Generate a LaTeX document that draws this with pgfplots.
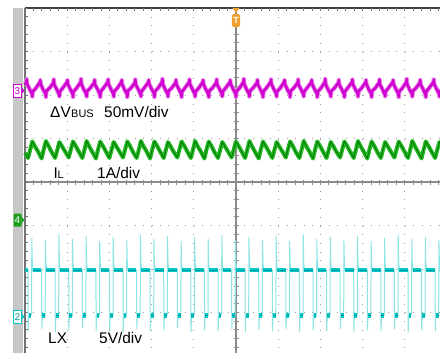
\documentclass[border=0pt]{standalone}
\usepackage{pgfplots}
\pgfplotsset{compat=1.18}
\usepackage{fontspec}
\setmainfont{Liberation Sans}
\definecolor{magc}{HTML}{D000D0}
\definecolor{magd}{HTML}{8A0090}
\definecolor{magl}{HTML}{E890E8}
\definecolor{grnc}{HTML}{22BB22}
\definecolor{grnd}{HTML}{087A08}
\definecolor{cyc}{HTML}{00C8C8}
\definecolor{cyd}{HTML}{009A9A}
\definecolor{cyl}{HTML}{8CE4E4}
\definecolor{gridc}{HTML}{9A9A9A}
\definecolor{crossc}{HTML}{8C8C8C}
\definecolor{trigc}{HTML}{F0A030}
\begin{document}
\begin{tikzpicture}
\begin{axis}[
  scale only axis, width=440bp, height=353bp,
  xmin=0, xmax=440, ymin=0, ymax=353, y dir=reverse,
  axis lines=none, unbounded coords=jump,
]
\fill[white] (axis cs:0,0) rectangle (axis cs:440,353);
% side strip
\fill[black!22] (axis cs:13,8) rectangle (axis cs:23,353);
% dotted grid
\pgfplotsinvokeforeach{67.2,109.4,151.6,193.8,278.2,320.4,362.6,404.8}{
  \draw[gridc, line width=1bp, dash pattern=on 1bp off 7.7bp] (axis cs:#1,8) -- (axis cs:#1,353);
}
\pgfplotsinvokeforeach{51.5,95,138.5,225.5,269,312.5}{
  \draw[gridc, line width=1bp, dash pattern=on 1bp off 7.44bp] (axis cs:25,#1) -- (axis cs:440,#1);
}
% center crosshair
\draw[crossc, line width=1.6bp] (axis cs:25,182) -- (axis cs:440,182);
\draw[crossc, line width=1.6bp] (axis cs:236,8) -- (axis cs:236,353);
\draw[crossc, line width=5bp, dash pattern=on 0.9bp off 7.54bp] (axis cs:24.55,182) -- (axis cs:440,182);
\draw[crossc, line width=5bp, dash pattern=on 0.9bp off 7.8bp] (axis cs:236,7.55) -- (axis cs:236,353);
% borders
\draw[black!75, line width=1.2bp] (axis cs:25,8) -- (axis cs:440,8);
\draw[black!55, line width=1.2bp] (axis cs:25,8) -- (axis cs:25,353);
\draw[black!55, line width=3bp, dash pattern=on 0.9bp off 7.54bp] (axis cs:24.55,9.5) -- (axis cs:440,9.5);
\draw[black!55, line width=3bp, dash pattern=on 0.9bp off 7.8bp] (axis cs:26.5,7.55) -- (axis cs:26.5,353);

% ---------------- channel 3 : Delta V_BUS ----------------
\addplot[magl, line width=4.5bp, line join=round] coordinates {
(25,84.5)
(26.4,82) (26.7,79.5) (27.1,84) (29.5,89) (32.0,94) (32.3,96.5) (32.8,91.5) (36.0,88)
(40.0,82) (40.3,80) (40.7,84) (43.1,89.5) (45.6,94) (45.9,97) (46.4,91) (49.6,88)
(53.5,82.5) (53.8,79.5) (54.2,84.5) (56.6,89) (59.1,94.5) (59.4,96.5) (59.9,91.5) (63.1,87.5)
(67.1,82) (67.4,80) (67.8,84) (70.2,89) (72.7,94) (73.0,97) (73.5,91.5) (76.7,88)
(80.7,82) (81.0,79) (81.4,84) (83.8,89.5) (86.3,94) (86.6,96.5) (87.1,91) (90.3,88)
(94.3,82.5) (94.6,80) (95.0,84.5) (97.4,89) (99.9,94.5) (100.2,97) (100.7,91.5) (103.9,87.5)
(107.8,82) (108.1,79.5) (108.5,84) (110.9,89) (113.4,94) (113.7,96.5) (114.2,91.5) (117.4,88)
(121.4,82) (121.7,80) (122.1,84) (124.5,89.5) (127.0,94) (127.3,97) (127.8,91) (131.0,88)
(135.0,82.5) (135.3,79.5) (135.7,84.5) (138.1,89) (140.6,94.5) (140.9,96.5) (141.4,91.5) (144.6,87.5)
(148.5,82) (148.8,80) (149.2,84) (151.6,89) (154.1,94) (154.4,97) (154.9,91.5) (158.1,88)
(162.1,82) (162.4,79) (162.8,84) (165.2,89.5) (167.7,94) (168.0,96.5) (168.5,91) (171.7,88)
(175.7,82.5) (176.0,80) (176.4,84.5) (178.8,89) (181.3,94.5) (181.6,97) (182.1,91.5) (185.3,87.5)
(189.2,82) (189.5,79.5) (189.9,84) (192.3,89) (194.8,94) (195.1,96.5) (195.6,91.5) (198.8,88)
(202.8,82) (203.1,80) (203.5,84) (205.9,89.5) (208.4,94) (208.7,97) (209.2,91) (212.4,88)
(216.4,82.5) (216.7,79.5) (217.1,84.5) (219.5,89) (222.0,94.5) (222.3,96.5) (222.8,91.5) (226.0,87.5)
(230.0,82) (230.3,80) (230.7,84) (233.1,89) (235.6,94) (235.9,97) (236.4,91.5) (239.6,88)
(243.5,82) (243.8,79) (244.2,84) (246.6,89.5) (249.1,94) (249.4,96.5) (249.9,91) (253.1,88)
(257.1,82.5) (257.4,80) (257.8,84.5) (260.2,89) (262.7,94.5) (263.0,97) (263.5,91.5) (266.7,87.5)
(270.7,82) (271.0,79.5) (271.4,84) (273.8,89) (276.3,94) (276.6,96.5) (277.1,91.5) (280.3,88)
(284.2,82) (284.5,80) (284.9,84) (287.3,89.5) (289.8,94) (290.1,97) (290.6,91) (293.8,88)
(297.8,82.5) (298.1,79.5) (298.5,84.5) (300.9,89) (303.4,94.5) (303.7,96.5) (304.2,91.5) (307.4,87.5)
(311.4,82) (311.7,80) (312.1,84) (314.5,89) (317.0,94) (317.3,97) (317.8,91.5) (321.0,88)
(324.9,82) (325.2,79) (325.6,84) (328.0,89.5) (330.5,94) (330.8,96.5) (331.3,91) (334.5,88)
(338.5,82.5) (338.8,80) (339.2,84.5) (341.6,89) (344.1,94.5) (344.4,97) (344.9,91.5) (348.1,87.5)
(352.1,82) (352.4,79.5) (352.8,84) (355.2,89) (357.7,94) (358.0,96.5) (358.5,91.5) (361.7,88)
(365.7,82) (366.0,80) (366.4,84) (368.8,89.5) (371.3,94) (371.6,97) (372.1,91) (375.3,88)
(379.2,82.5) (379.5,79.5) (379.9,84.5) (382.3,89) (384.8,94.5) (385.1,96.5) (385.6,91.5) (388.8,87.5)
(392.8,82) (393.1,80) (393.5,84) (395.9,89) (398.4,94) (398.7,97) (399.2,91.5) (402.4,88)
(406.4,82) (406.7,79) (407.1,84) (409.5,89.5) (412.0,94) (412.3,96.5) (412.8,91) (416.0,88)
(419.9,82.5) (420.2,80) (420.6,84.5) (423.0,89) (425.5,94.5) (425.8,97) (426.3,91.5) (429.5,87.5)
(433.5,82) (433.8,79.5) (434.2,84) (436.6,89) (439.1,94) (439.4,96.5) (439.9,91.5) (443,88)
};
\addplot[magc, line width=2.6bp, line join=round] coordinates {
(25,84.5)
(26.4,82) (26.7,79.5) (27.1,84) (29.5,89) (32.0,94) (32.3,96.5) (32.8,91.5) (36.0,88)
(40.0,82) (40.3,80) (40.7,84) (43.1,89.5) (45.6,94) (45.9,97) (46.4,91) (49.6,88)
(53.5,82.5) (53.8,79.5) (54.2,84.5) (56.6,89) (59.1,94.5) (59.4,96.5) (59.9,91.5) (63.1,87.5)
(67.1,82) (67.4,80) (67.8,84) (70.2,89) (72.7,94) (73.0,97) (73.5,91.5) (76.7,88)
(80.7,82) (81.0,79) (81.4,84) (83.8,89.5) (86.3,94) (86.6,96.5) (87.1,91) (90.3,88)
(94.3,82.5) (94.6,80) (95.0,84.5) (97.4,89) (99.9,94.5) (100.2,97) (100.7,91.5) (103.9,87.5)
(107.8,82) (108.1,79.5) (108.5,84) (110.9,89) (113.4,94) (113.7,96.5) (114.2,91.5) (117.4,88)
(121.4,82) (121.7,80) (122.1,84) (124.5,89.5) (127.0,94) (127.3,97) (127.8,91) (131.0,88)
(135.0,82.5) (135.3,79.5) (135.7,84.5) (138.1,89) (140.6,94.5) (140.9,96.5) (141.4,91.5) (144.6,87.5)
(148.5,82) (148.8,80) (149.2,84) (151.6,89) (154.1,94) (154.4,97) (154.9,91.5) (158.1,88)
(162.1,82) (162.4,79) (162.8,84) (165.2,89.5) (167.7,94) (168.0,96.5) (168.5,91) (171.7,88)
(175.7,82.5) (176.0,80) (176.4,84.5) (178.8,89) (181.3,94.5) (181.6,97) (182.1,91.5) (185.3,87.5)
(189.2,82) (189.5,79.5) (189.9,84) (192.3,89) (194.8,94) (195.1,96.5) (195.6,91.5) (198.8,88)
(202.8,82) (203.1,80) (203.5,84) (205.9,89.5) (208.4,94) (208.7,97) (209.2,91) (212.4,88)
(216.4,82.5) (216.7,79.5) (217.1,84.5) (219.5,89) (222.0,94.5) (222.3,96.5) (222.8,91.5) (226.0,87.5)
(230.0,82) (230.3,80) (230.7,84) (233.1,89) (235.6,94) (235.9,97) (236.4,91.5) (239.6,88)
(243.5,82) (243.8,79) (244.2,84) (246.6,89.5) (249.1,94) (249.4,96.5) (249.9,91) (253.1,88)
(257.1,82.5) (257.4,80) (257.8,84.5) (260.2,89) (262.7,94.5) (263.0,97) (263.5,91.5) (266.7,87.5)
(270.7,82) (271.0,79.5) (271.4,84) (273.8,89) (276.3,94) (276.6,96.5) (277.1,91.5) (280.3,88)
(284.2,82) (284.5,80) (284.9,84) (287.3,89.5) (289.8,94) (290.1,97) (290.6,91) (293.8,88)
(297.8,82.5) (298.1,79.5) (298.5,84.5) (300.9,89) (303.4,94.5) (303.7,96.5) (304.2,91.5) (307.4,87.5)
(311.4,82) (311.7,80) (312.1,84) (314.5,89) (317.0,94) (317.3,97) (317.8,91.5) (321.0,88)
(324.9,82) (325.2,79) (325.6,84) (328.0,89.5) (330.5,94) (330.8,96.5) (331.3,91) (334.5,88)
(338.5,82.5) (338.8,80) (339.2,84.5) (341.6,89) (344.1,94.5) (344.4,97) (344.9,91.5) (348.1,87.5)
(352.1,82) (352.4,79.5) (352.8,84) (355.2,89) (357.7,94) (358.0,96.5) (358.5,91.5) (361.7,88)
(365.7,82) (366.0,80) (366.4,84) (368.8,89.5) (371.3,94) (371.6,97) (372.1,91) (375.3,88)
(379.2,82.5) (379.5,79.5) (379.9,84.5) (382.3,89) (384.8,94.5) (385.1,96.5) (385.6,91.5) (388.8,87.5)
(392.8,82) (393.1,80) (393.5,84) (395.9,89) (398.4,94) (398.7,97) (399.2,91.5) (402.4,88)
(406.4,82) (406.7,79) (407.1,84) (409.5,89.5) (412.0,94) (412.3,96.5) (412.8,91) (416.0,88)
(419.9,82.5) (420.2,80) (420.6,84.5) (423.0,89) (425.5,94.5) (425.8,97) (426.3,91.5) (429.5,87.5)
(433.5,82) (433.8,79.5) (434.2,84) (436.6,89) (439.1,94) (439.4,96.5) (439.9,91.5) (443,88)
};

% ---------------- channel 4 : I_L ----------------
\addplot[grnc, line width=4bp, line join=round] coordinates {
(25,153)
(28.0,158) (30.0,150.5) (32.3,141.5) (35.0,146.5) (38.0,151.5)
(41.6,158.5) (43.6,150) (45.9,141) (48.6,146) (51.6,152)
(55.1,158) (57.1,150.5) (59.4,142) (62.1,146.5) (65.1,151.5)
(68.7,157.5) (70.7,150) (73.0,141.5) (75.7,146) (78.7,151.5)
(82.3,158) (84.3,150.5) (86.6,141) (89.3,146.5) (92.3,152)
(95.9,158.5) (97.9,150) (100.2,141.5) (102.9,146) (105.9,151.5)
(109.4,158) (111.4,150.5) (113.7,142) (116.4,146.5) (119.4,151.5)
(123.0,157.5) (125.0,150) (127.3,141.5) (130.0,146) (133.0,152)
(136.6,158) (138.6,150.5) (140.9,141) (143.6,146.5) (146.6,151.5)
(150.1,158.5) (152.1,150) (154.4,141.5) (157.1,146) (160.1,151.5)
(163.7,158) (165.7,150.5) (168.0,142) (170.7,146.5) (173.7,152)
(177.3,157.5) (179.3,150) (181.6,141.5) (184.3,146) (187.3,151.5)
(190.8,158) (192.8,150.5) (195.1,141) (197.8,146.5) (200.8,151.5)
(204.4,158.5) (206.4,150) (208.7,141.5) (211.4,146) (214.4,152)
(218.0,158) (220.0,150.5) (222.3,142) (225.0,146.5) (228.0,151.5)
(231.6,157.5) (233.6,150) (235.9,141.5) (238.6,146) (241.6,151.5)
(245.1,158) (247.1,150.5) (249.4,141) (252.1,146.5) (255.1,152)
(258.7,158.5) (260.7,150) (263.0,141.5) (265.7,146) (268.7,151.5)
(272.3,158) (274.3,150.5) (276.6,142) (279.3,146.5) (282.3,151.5)
(285.8,157.5) (287.8,150) (290.1,141.5) (292.8,146) (295.8,152)
(299.4,158) (301.4,150.5) (303.7,141) (306.4,146.5) (309.4,151.5)
(313.0,158.5) (315.0,150) (317.3,141.5) (320.0,146) (323.0,151.5)
(326.5,158) (328.5,150.5) (330.8,142) (333.5,146.5) (336.5,152)
(340.1,157.5) (342.1,150) (344.4,141.5) (347.1,146) (350.1,151.5)
(353.7,158) (355.7,150.5) (358.0,141) (360.7,146.5) (363.7,151.5)
(367.3,158.5) (369.3,150) (371.6,141.5) (374.3,146) (377.3,152)
(380.8,158) (382.8,150.5) (385.1,142) (387.8,146.5) (390.8,151.5)
(394.4,157.5) (396.4,150) (398.7,141.5) (401.4,146) (404.4,151.5)
(408.0,158) (410.0,150.5) (412.3,141) (415.0,146.5) (418.0,152)
(421.5,158.5) (423.5,150) (425.8,141.5) (428.5,146) (431.5,151.5)
(435.1,158) (437.1,150.5) (439.4,142) (442,146)
};
\addplot[grnd, line width=1bp, line join=round] coordinates {
(25,153)
(28.0,158) (30.0,150.5) (32.3,141.5) (35.0,146.5) (38.0,151.5)
(41.6,158.5) (43.6,150) (45.9,141) (48.6,146) (51.6,152)
(55.1,158) (57.1,150.5) (59.4,142) (62.1,146.5) (65.1,151.5)
(68.7,157.5) (70.7,150) (73.0,141.5) (75.7,146) (78.7,151.5)
(82.3,158) (84.3,150.5) (86.6,141) (89.3,146.5) (92.3,152)
(95.9,158.5) (97.9,150) (100.2,141.5) (102.9,146) (105.9,151.5)
(109.4,158) (111.4,150.5) (113.7,142) (116.4,146.5) (119.4,151.5)
(123.0,157.5) (125.0,150) (127.3,141.5) (130.0,146) (133.0,152)
(136.6,158) (138.6,150.5) (140.9,141) (143.6,146.5) (146.6,151.5)
(150.1,158.5) (152.1,150) (154.4,141.5) (157.1,146) (160.1,151.5)
(163.7,158) (165.7,150.5) (168.0,142) (170.7,146.5) (173.7,152)
(177.3,157.5) (179.3,150) (181.6,141.5) (184.3,146) (187.3,151.5)
(190.8,158) (192.8,150.5) (195.1,141) (197.8,146.5) (200.8,151.5)
(204.4,158.5) (206.4,150) (208.7,141.5) (211.4,146) (214.4,152)
(218.0,158) (220.0,150.5) (222.3,142) (225.0,146.5) (228.0,151.5)
(231.6,157.5) (233.6,150) (235.9,141.5) (238.6,146) (241.6,151.5)
(245.1,158) (247.1,150.5) (249.4,141) (252.1,146.5) (255.1,152)
(258.7,158.5) (260.7,150) (263.0,141.5) (265.7,146) (268.7,151.5)
(272.3,158) (274.3,150.5) (276.6,142) (279.3,146.5) (282.3,151.5)
(285.8,157.5) (287.8,150) (290.1,141.5) (292.8,146) (295.8,152)
(299.4,158) (301.4,150.5) (303.7,141) (306.4,146.5) (309.4,151.5)
(313.0,158.5) (315.0,150) (317.3,141.5) (320.0,146) (323.0,151.5)
(326.5,158) (328.5,150.5) (330.8,142) (333.5,146.5) (336.5,152)
(340.1,157.5) (342.1,150) (344.4,141.5) (347.1,146) (350.1,151.5)
(353.7,158) (355.7,150.5) (358.0,141) (360.7,146.5) (363.7,151.5)
(367.3,158.5) (369.3,150) (371.6,141.5) (374.3,146) (377.3,152)
(380.8,158) (382.8,150.5) (385.1,142) (387.8,146.5) (390.8,151.5)
(394.4,157.5) (396.4,150) (398.7,141.5) (401.4,146) (404.4,151.5)
(408.0,158) (410.0,150.5) (412.3,141) (415.0,146.5) (418.0,152)
(421.5,158.5) (423.5,150) (425.8,141.5) (428.5,146) (431.5,151.5)
(435.1,158) (437.1,150.5) (439.4,142) (442,146)
};

% ---------------- channel 2 : LX ----------------
\addplot[cyl, line width=1bp] coordinates {
(25,270)
(28.0,270) (28.2,331) (28.7,316) (31.6,315) (31.8,238) (32.3,262) (33.0,271) (37.0,269.5)
(41.6,270) (41.8,329) (42.3,315) (45.2,316) (45.4,240) (45.9,263) (46.6,270) (50.6,270.5)
(55.1,270) (55.3,332) (55.8,316) (58.7,315) (58.9,234) (59.4,261) (60.1,271) (64.1,269.5)
(68.7,270) (68.9,330) (69.4,315) (72.3,316) (72.5,239) (73.0,263) (73.7,270) (77.7,270.5)
(82.3,270) (82.5,328) (83.0,316) (85.9,315) (86.1,236) (86.6,262) (87.3,271) (91.3,269.5)
(95.9,270) (96.1,331) (96.6,315) (99.5,316) (99.7,241) (100.2,263) (100.9,270) (104.9,270.5)
(109.4,270) (109.6,330) (110.1,316) (113.0,315) (113.2,237) (113.7,262) (114.4,271) (118.4,269.5)
(123.0,270) (123.2,332) (123.7,315) (126.6,316) (126.8,240) (127.3,263) (128.0,270) (132.0,270.5)
(136.6,270) (136.8,329) (137.3,316) (140.2,315) (140.4,235) (140.9,262) (141.6,271) (145.6,269.5)
(150.1,270) (150.3,331) (150.8,315) (153.7,316) (153.9,239) (154.4,263) (155.1,270) (159.1,270.5)
(163.7,270) (163.9,330) (164.4,316) (167.3,315) (167.5,236) (168.0,262) (168.7,271) (172.7,269.5)
(177.3,270) (177.5,328) (178.0,315) (180.9,316) (181.1,241) (181.6,263) (182.3,270) (186.3,270.5)
(190.8,270) (191.0,332) (191.5,316) (194.4,315) (194.6,237) (195.1,262) (195.8,271) (199.8,269.5)
(204.4,270) (204.6,330) (205.1,315) (208.0,316) (208.2,239) (208.7,263) (209.4,270) (213.4,270.5)
(218.0,270) (218.2,331) (218.7,316) (221.6,315) (221.8,235) (222.3,262) (223.0,271) (227.0,269.5)
(231.6,270) (231.8,329) (232.3,315) (235.2,316) (235.4,240) (235.9,263) (236.6,270) (240.6,270.5)
(245.1,270) (245.3,332) (245.8,316) (248.7,315) (248.9,237) (249.4,262) (250.1,271) (254.1,269.5)
(258.7,270) (258.9,330) (259.4,315) (262.3,316) (262.5,240) (263.0,263) (263.7,270) (267.7,270.5)
(272.3,270) (272.5,331) (273.0,316) (275.9,315) (276.1,236) (276.6,262) (277.3,271) (281.3,269.5)
(285.8,270) (286.0,329) (286.5,315) (289.4,316) (289.6,241) (290.1,263) (290.8,270) (294.8,270.5)
(299.4,270) (299.6,332) (300.1,316) (303.0,315) (303.2,234) (303.7,262) (304.4,271) (308.4,269.5)
(313.0,270) (313.2,330) (313.7,315) (316.6,316) (316.8,239) (317.3,263) (318.0,270) (322.0,270.5)
(326.5,270) (326.7,331) (327.2,316) (330.1,315) (330.3,237) (330.8,262) (331.5,271) (335.5,269.5)
(340.1,270) (340.3,329) (340.8,315) (343.7,316) (343.9,240) (344.4,263) (345.1,270) (349.1,270.5)
(353.7,270) (353.9,332) (354.4,316) (357.3,315) (357.5,236) (358.0,262) (358.7,271) (362.7,269.5)
(367.3,270) (367.5,330) (368.0,315) (370.9,316) (371.1,241) (371.6,263) (372.3,270) (376.3,270.5)
(380.8,270) (381.0,331) (381.5,316) (384.4,315) (384.6,238) (385.1,262) (385.8,271) (389.8,269.5)
(394.4,270) (394.6,329) (395.1,315) (398.0,316) (398.2,235) (398.7,263) (399.4,270) (403.4,270.5)
(408.0,270) (408.2,332) (408.7,316) (411.6,315) (411.8,239) (412.3,262) (413.0,271) (417.0,269.5)
(421.5,270) (421.7,330) (422.2,315) (425.1,316) (425.3,237) (425.8,263) (426.5,270) (430.5,270.5)
(435.1,270) (435.3,331) (435.8,316) (438.7,315) (438.9,240) (439.4,262) (440.1,271) (444,270)
};
\addplot[cyc, line width=4.5bp] coordinates {
(25,270) (27.8,270) (27.9,nan)
(28.6,315.5) (31.4,315.5) (31.5,nan) (32.6,270) (41.4,270) (41.5,nan)
(42.2,315.5) (45.0,315.5) (45.1,nan) (46.2,270) (54.9,270) (55.0,nan)
(55.7,315.5) (58.5,315.5) (58.6,nan) (59.7,270) (68.5,270) (68.6,nan)
(69.3,315.5) (72.1,315.5) (72.2,nan) (73.3,270) (82.1,270) (82.2,nan)
(82.9,315.5) (85.7,315.5) (85.8,nan) (86.9,270) (95.7,270) (95.8,nan)
(96.5,315.5) (99.3,315.5) (99.4,nan) (100.5,270) (109.2,270) (109.3,nan)
(110.0,315.5) (112.8,315.5) (112.9,nan) (114.0,270) (122.8,270) (122.9,nan)
(123.6,315.5) (126.4,315.5) (126.5,nan) (127.6,270) (136.4,270) (136.5,nan)
(137.2,315.5) (140.0,315.5) (140.1,nan) (141.2,270) (149.9,270) (150.0,nan)
(150.7,315.5) (153.5,315.5) (153.6,nan) (154.7,270) (163.5,270) (163.6,nan)
(164.3,315.5) (167.1,315.5) (167.2,nan) (168.3,270) (177.1,270) (177.2,nan)
(177.9,315.5) (180.7,315.5) (180.8,nan) (181.9,270) (190.6,270) (190.7,nan)
(191.4,315.5) (194.2,315.5) (194.3,nan) (195.4,270) (204.2,270) (204.3,nan)
(205.0,315.5) (207.8,315.5) (207.9,nan) (209.0,270) (217.8,270) (217.9,nan)
(218.6,315.5) (221.4,315.5) (221.5,nan) (222.6,270) (231.4,270) (231.5,nan)
(232.2,315.5) (235.0,315.5) (235.1,nan) (236.2,270) (244.9,270) (245.0,nan)
(245.7,315.5) (248.5,315.5) (248.6,nan) (249.7,270) (258.5,270) (258.6,nan)
(259.3,315.5) (262.1,315.5) (262.2,nan) (263.3,270) (272.1,270) (272.2,nan)
(272.9,315.5) (275.7,315.5) (275.8,nan) (276.9,270) (285.6,270) (285.7,nan)
(286.4,315.5) (289.2,315.5) (289.3,nan) (290.4,270) (299.2,270) (299.3,nan)
(300.0,315.5) (302.8,315.5) (302.9,nan) (304.0,270) (312.8,270) (312.9,nan)
(313.6,315.5) (316.4,315.5) (316.5,nan) (317.6,270) (326.3,270) (326.4,nan)
(327.1,315.5) (329.9,315.5) (330.0,nan) (331.1,270) (339.9,270) (340.0,nan)
(340.7,315.5) (343.5,315.5) (343.6,nan) (344.7,270) (353.5,270) (353.6,nan)
(354.3,315.5) (357.1,315.5) (357.2,nan) (358.3,270) (367.1,270) (367.2,nan)
(367.9,315.5) (370.7,315.5) (370.8,nan) (371.9,270) (380.6,270) (380.7,nan)
(381.4,315.5) (384.2,315.5) (384.3,nan) (385.4,270) (394.2,270) (394.3,nan)
(395.0,315.5) (397.8,315.5) (397.9,nan) (399.0,270) (407.8,270) (407.9,nan)
(408.6,315.5) (411.4,315.5) (411.5,nan) (412.6,270) (421.3,270) (421.4,nan)
(422.1,315.5) (424.9,315.5) (425.0,nan) (426.1,270) (434.9,270) (435.0,nan)
(435.7,315.5) (438.5,315.5) (438.6,nan) (439.7,270) (445,270)
};
\addplot[cyd, line width=1bp] coordinates {
(25,270) (27.8,270) (27.9,nan)
(28.6,315.5) (31.4,315.5) (31.5,nan) (32.6,270) (41.4,270) (41.5,nan)
(42.2,315.5) (45.0,315.5) (45.1,nan) (46.2,270) (54.9,270) (55.0,nan)
(55.7,315.5) (58.5,315.5) (58.6,nan) (59.7,270) (68.5,270) (68.6,nan)
(69.3,315.5) (72.1,315.5) (72.2,nan) (73.3,270) (82.1,270) (82.2,nan)
(82.9,315.5) (85.7,315.5) (85.8,nan) (86.9,270) (95.7,270) (95.8,nan)
(96.5,315.5) (99.3,315.5) (99.4,nan) (100.5,270) (109.2,270) (109.3,nan)
(110.0,315.5) (112.8,315.5) (112.9,nan) (114.0,270) (122.8,270) (122.9,nan)
(123.6,315.5) (126.4,315.5) (126.5,nan) (127.6,270) (136.4,270) (136.5,nan)
(137.2,315.5) (140.0,315.5) (140.1,nan) (141.2,270) (149.9,270) (150.0,nan)
(150.7,315.5) (153.5,315.5) (153.6,nan) (154.7,270) (163.5,270) (163.6,nan)
(164.3,315.5) (167.1,315.5) (167.2,nan) (168.3,270) (177.1,270) (177.2,nan)
(177.9,315.5) (180.7,315.5) (180.8,nan) (181.9,270) (190.6,270) (190.7,nan)
(191.4,315.5) (194.2,315.5) (194.3,nan) (195.4,270) (204.2,270) (204.3,nan)
(205.0,315.5) (207.8,315.5) (207.9,nan) (209.0,270) (217.8,270) (217.9,nan)
(218.6,315.5) (221.4,315.5) (221.5,nan) (222.6,270) (231.4,270) (231.5,nan)
(232.2,315.5) (235.0,315.5) (235.1,nan) (236.2,270) (244.9,270) (245.0,nan)
(245.7,315.5) (248.5,315.5) (248.6,nan) (249.7,270) (258.5,270) (258.6,nan)
(259.3,315.5) (262.1,315.5) (262.2,nan) (263.3,270) (272.1,270) (272.2,nan)
(272.9,315.5) (275.7,315.5) (275.8,nan) (276.9,270) (285.6,270) (285.7,nan)
(286.4,315.5) (289.2,315.5) (289.3,nan) (290.4,270) (299.2,270) (299.3,nan)
(300.0,315.5) (302.8,315.5) (302.9,nan) (304.0,270) (312.8,270) (312.9,nan)
(313.6,315.5) (316.4,315.5) (316.5,nan) (317.6,270) (326.3,270) (326.4,nan)
(327.1,315.5) (329.9,315.5) (330.0,nan) (331.1,270) (339.9,270) (340.0,nan)
(340.7,315.5) (343.5,315.5) (343.6,nan) (344.7,270) (353.5,270) (353.6,nan)
(354.3,315.5) (357.1,315.5) (357.2,nan) (358.3,270) (367.1,270) (367.2,nan)
(367.9,315.5) (370.7,315.5) (370.8,nan) (371.9,270) (380.6,270) (380.7,nan)
(381.4,315.5) (384.2,315.5) (384.3,nan) (385.4,270) (394.2,270) (394.3,nan)
(395.0,315.5) (397.8,315.5) (397.9,nan) (399.0,270) (407.8,270) (407.9,nan)
(408.6,315.5) (411.4,315.5) (411.5,nan) (412.6,270) (421.3,270) (421.4,nan)
(422.1,315.5) (424.9,315.5) (425.0,nan) (426.1,270) (434.9,270) (435.0,nan)
(435.7,315.5) (438.5,315.5) (438.6,nan) (439.7,270) (445,270)
};

% ---------------- labels ----------------
\node[anchor=base west, inner sep=0pt, font=\fontsize{15.5}{18}\selectfont] at (axis cs:50,117) {ΔV};
\node[anchor=base west, inner sep=0pt, font=\fontsize{11}{13}\selectfont] at (axis cs:71,117) {BUS};
\node[anchor=base west, inner sep=0pt, font=\fontsize{15.5}{18}\selectfont] at (axis cs:104,117) {50mV/div};
\node[anchor=base west, inner sep=0pt, font=\fontsize{15.5}{18}\selectfont] at (axis cs:53.5,178) {I};
\node[anchor=base west, inner sep=0pt, font=\fontsize{11}{13}\selectfont] at (axis cs:57.5,178) {L};
\node[anchor=base west, inner sep=0pt, font=\fontsize{15.5}{18}\selectfont] at (axis cs:97,178) {1A/div};
\node[anchor=base west, inner sep=0pt, font=\fontsize{15.5}{18}\selectfont] at (axis cs:48,343) {LX};
\node[anchor=base west, inner sep=0pt, font=\fontsize{15.5}{18}\selectfont] at (axis cs:99,343) {5V/div};

% ---------------- channel markers ----------------
\filldraw[fill=white, draw=magc, line width=0.9bp] (axis cs:13.5,84.5) rectangle (axis cs:21.5,97);
\fill[magc] (axis cs:21.5,87.5) -- (axis cs:24.5,90.8) -- (axis cs:21.5,94) -- cycle;
\node[magc, inner sep=0pt, font=\fontsize{10}{10}\selectfont] at (axis cs:17.5,90.8) {3};
\fill[grnc!85!black, rounded corners=1bp] (axis cs:13.5,213.5) rectangle (axis cs:21.5,226.5);
\fill[grnc!85!black] (axis cs:21.5,216.5) -- (axis cs:24.5,220) -- (axis cs:21.5,223.5) -- cycle;
\node[white, inner sep=0pt, font=\fontsize{10}{10}\selectfont] at (axis cs:17.5,220) {4};
\filldraw[fill=white, draw=cyc, line width=0.9bp] (axis cs:13.5,310.5) rectangle (axis cs:21.5,323);
\fill[cyc] (axis cs:21.5,313.5) -- (axis cs:24.5,316.8) -- (axis cs:21.5,320) -- cycle;
\node[cyd, inner sep=0pt, font=\fontsize{10}{10}\selectfont] at (axis cs:17.5,316.8) {2};
% trigger marker
\fill[trigc] (axis cs:232.5,8) -- (axis cs:239.5,8) -- (axis cs:236,13) -- cycle;
\fill[trigc, rounded corners=1.5bp] (axis cs:231.8,14) rectangle (axis cs:240.2,27);
\node[white, inner sep=0pt, font=\bfseries\fontsize{9}{9}\selectfont] at (axis cs:236,20.5) {T};
\end{axis}
\end{tikzpicture}
\end{document}
